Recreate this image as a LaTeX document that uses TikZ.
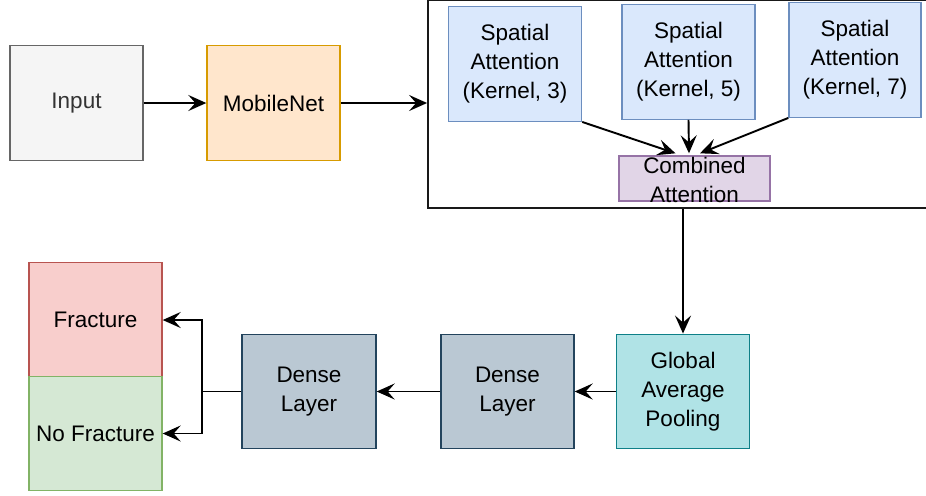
\documentclass[tikz,border=0pt]{standalone}
\usepackage{fontspec}
\setmainfont{Liberation Sans}
\usepackage{xcolor}
\usepackage{tikz}
\usetikzlibrary{arrows.meta,positioning,calc}
\definecolor{inputfill}{HTML}{F5F5F5}
\definecolor{inputdraw}{HTML}{666666}
\definecolor{mobfill}{HTML}{FFE6CC}
\definecolor{mobdraw}{HTML}{D79B00}
\definecolor{spatfill}{HTML}{DAE8FC}
\definecolor{spatdraw}{HTML}{6C8EBF}
\definecolor{combfill}{HTML}{E1D5E7}
\definecolor{combdraw}{HTML}{9673A6}
\definecolor{gapfill}{HTML}{B0E3E6}
\definecolor{gapdraw}{HTML}{0E8088}
\definecolor{densefill}{HTML}{BAC8D3}
\definecolor{densedraw}{HTML}{23445D}
\definecolor{fracfill}{HTML}{F8CECC}
\definecolor{fracdraw}{HTML}{B85450}
\definecolor{nofracfill}{HTML}{D5E8D4}
\definecolor{nofracdraw}{HTML}{82B366}

\begin{document}
\begin{tikzpicture}[
  x=0.02cm, y=-0.02cm,
  font=\fontsize{12.8}{16.6}\selectfont,
  blockbox/.style={rectangle, line width=0.8pt, minimum width=2.66cm, minimum height=2.29cm, align=center, inner sep=1pt},
  spatbox/.style={blockbox, fill=spatfill, draw=spatdraw},
  densebox/.style={blockbox, fill=densefill, draw=densedraw},
  flowarrow/.style={-{Stealth[length=3.6mm,width=3.2mm,inset=1.4mm]}, line width=1.1pt, color=black}
]
\clip (0,0) rectangle (926,495);

% Top row: input and backbone
\node[blockbox, fill=inputfill, draw=inputdraw, text=black!80] (input) at (76.5,103) {Input};
\node[blockbox, fill=mobfill, draw=mobdraw] (mobilenet) at (273.5,103) {MobileNet};

% Multi-scale attention block
\node[rectangle, draw=black!90, line width=1.1pt, minimum width=10.24cm, minimum height=4.16cm] (attnblock) at (684,104) {};
\node[spatbox] (sa3) at (515,64) {Spatial\\Attention\\(Kernel, 3)};
\node[spatbox] (sa5) at (688.5,62) {Spatial\\Attention\\(Kernel, 5)};
\node[spatbox, minimum width=2.64cm] (sa7) at (855,60) {Spatial\\Attention\\(Kernel, 7)};
\node[rectangle, fill=combfill, draw=combdraw, line width=0.8pt, minimum width=3.02cm, minimum height=0.9cm,
  label={[align=center, yshift=-0.03cm]center:Combined\\Attention}] (comb) at (694.5,178.5) {};

% Bottom row: classifier head
\node[blockbox, fill=gapfill, draw=gapdraw] (gap) at (683,391.5) {Global\\Average\\Pooling};
\node[densebox] (dense2) at (507.5,391.5) {Dense\\Layer};
\node[densebox, minimum width=2.68cm] (dense1) at (309,391.5) {Dense\\Layer};
\node[blockbox, fill=fracfill, draw=fracdraw] (fracture) at (95.5,320) {Fracture};
\node[blockbox, fill=nofracfill, draw=nofracdraw, minimum height=2.27cm] (nofracture) at (95.5,433.5) {No Fracture};
\coordinate[left=0.78cm of dense1.west] (split);

% Connectors
\draw[flowarrow] (input) -- (mobilenet);
\draw[flowarrow] (mobilenet.east) -- (mobilenet.east -| attnblock.west);
\draw[flowarrow] (sa3.south east) -- ([xshift=-0.38cm, yshift=0.04cm]comb.north);
\draw[flowarrow] (sa5.south) -- ([xshift=-0.11cm, yshift=0.04cm]comb.north);
\draw[flowarrow] (sa7.south west) -- ([xshift=0.11cm, yshift=0.04cm]comb.north);
\draw[flowarrow] (gap.north |- attnblock.south) -- (gap.north);
\draw[flowarrow] (gap) -- (dense2);
\draw[flowarrow] (dense2) -- (dense1);
\draw[flowarrow] (dense1.west) -- (split) |- (fracture.east);
\draw[flowarrow] (split) |- (nofracture.east);

\end{tikzpicture}
\end{document}
